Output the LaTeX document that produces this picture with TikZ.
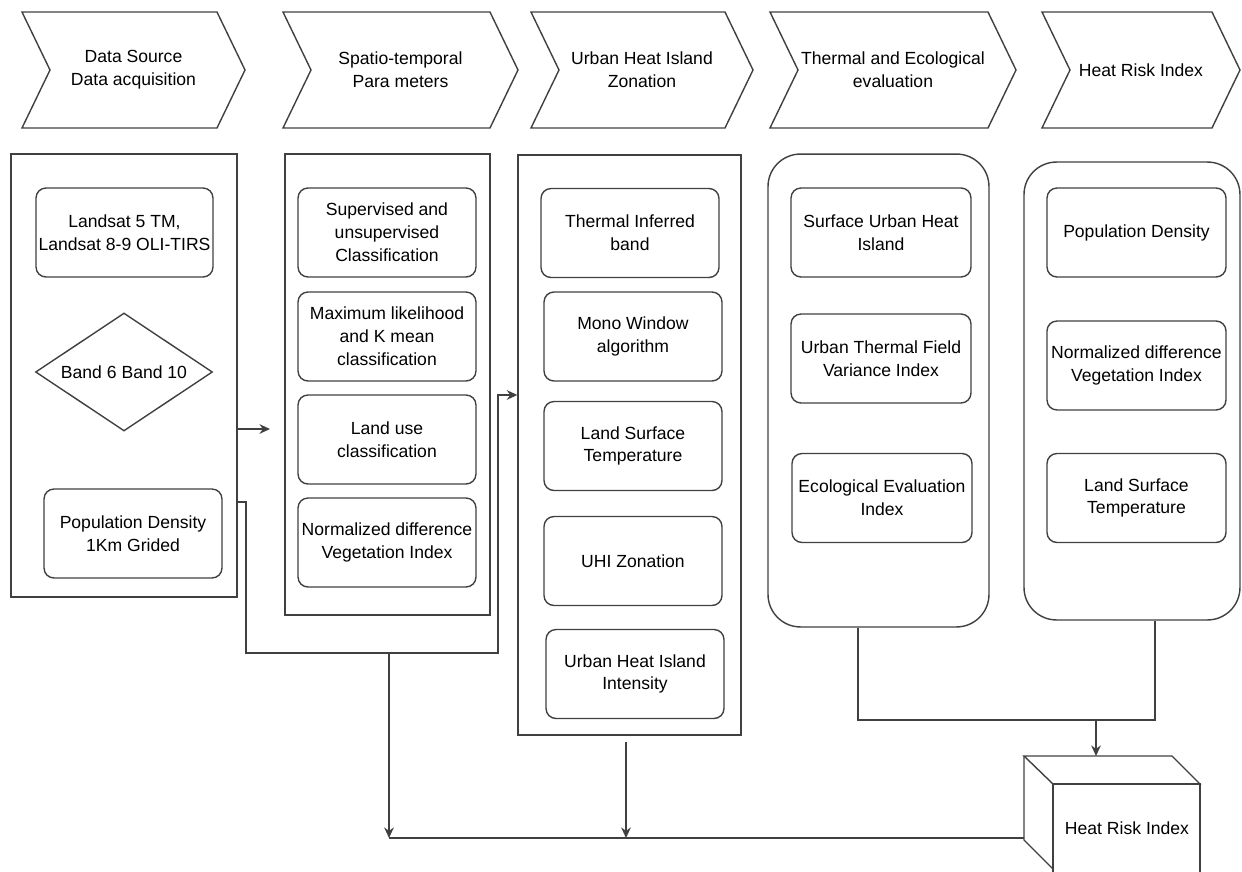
\documentclass[tikz,border=0pt]{standalone}
\usepackage{fontspec}
\setmainfont{Liberation Sans}
\usetikzlibrary{arrows.meta, shapes.geometric}
\tikzset{stagetext/.style = {align=center, font=\fontsize{10}{13}\selectfont},
    flow/.style = {draw=black!75, line width=0.8pt},
    flowarrow/.style = {flow, -{Stealth[length=6pt,width=5.5pt]}},
    groupbox/.style = {flow, inner sep=0pt},
    roundgroup/.style = {groupbox, rounded corners=0.65cm},
    itembox/.style = {flow, rounded corners=0.2cm,
            minimum width=3.56cm, minimum height=1.78cm,
            inner sep=1pt, stagetext}}
% #1 left x, #2 right x of the top edge, #3 name, #4 text
\newcommand\stagechevron[4]{%
    \draw[flow] (#1,12) -- (#2,12) -- ++(28,58) -- ++(-28,58) -- (#1,128)
        -- ++(28,-58) -- cycle;
    \node[stagetext] (#3) at ({(#1+#2+28)/2},70) {#4};}

\begin{document}
\begin{tikzpicture}[x=0.02cm, y=-0.02cm]
\useasboundingbox (0,0) rectangle (1242,872);
% stage headers
\stagechevron{22}{217}{hsource}{Data Source\\Data acquisition}
\stagechevron{283}{490}{hspatio}{Spatio-temporal\\Para meters}
\stagechevron{531}{725}{huhi}{Urban Heat Island\\Zonation}
\stagechevron{770}{988}{htherm}{Thermal and Ecological\\evaluation}
\stagechevron{1042}{1212}{hrisk}{Heat Risk Index}

% group boxes
\node[groupbox, minimum width=4.52cm, minimum height=8.86cm] (src) at (124,375.5) {};
\node[groupbox, minimum width=4.10cm, minimum height=9.22cm] (spt) at (387.5,384.5) {};
\node[groupbox, minimum width=4.46cm, minimum height=11.6cm] (uhi) at (629.5,445) {};
\node[roundgroup, minimum width=4.42cm, minimum height=9.46cm] (thm) at (878.5,390.5) {};
\node[roundgroup, minimum width=4.32cm, minimum height=9.16cm] (rsk) at (1132,391) {};

% data source
\node[itembox, minimum width=3.54cm] (landsat) at (124.5,232.5) {Landsat 5 TM,\\Landsat 8-9 OLI-TIRS};
\node[flow, diamond, shape aspect=1.5, minimum width=3.54cm, minimum height=2.36cm,
      inner sep=0pt, stagetext] (bands) at (124,372) {Band 6 Band 10};
\node[itembox] (popgrid) at (133,533.5) {Population Density\\1Km Grided};

% spatio-temporal parameters
\node[itembox] (superv) at (387,232.5) {Supervised and\\unsupervised\\Classification};
\node[itembox] (maxlik) at (387,336.5) {Maximum likelihood\\and K mean\\classification};
\node[itembox] (landuse) at (387,439.5) {Land use\\classification};
\node[itembox] (ndvia) at (387,542.5) {Normalized difference\\Vegetation Index};

% urban heat island zonation
\node[itembox] (tirband) at (630,233) {Thermal Inferred\\band};
\node[itembox] (monowin) at (633,336.5) {Mono Window\\algorithm};
\node[itembox] (lsta) at (633,446) {Land Surface\\Temperature};
\node[itembox] (uhizone) at (633,561) {UHI Zonation};
\node[itembox] (uhiint) at (635,674) {Urban Heat Island\\Intensity};

% thermal and ecological evaluation
\node[itembox, minimum width=3.6cm] (suhi) at (881,232.5) {Surface Urban Heat\\Island};
\node[itembox, minimum width=3.6cm] (utfvi) at (881,358.5) {Urban Thermal Field\\Variance Index};
\node[itembox, minimum width=3.6cm] (eei) at (882,498) {Ecological Evaluation\\Index};

% heat risk index
\node[itembox, minimum width=3.58cm] (popd) at (1136.5,232.5) {Population Density};
\node[itembox, minimum width=3.58cm] (ndvib) at (1136.5,365.5) {Normalized difference\\Vegetation Index};
\node[itembox, minimum width=3.58cm] (lstb) at (1136.5,498) {Land Surface\\Temperature};

% result cube
\draw[flow] (1024,756) -- (1172,756) -- (1200,784) -- (1053,784) -- cycle;
\draw[flow] (1053,784) rectangle (1200,880);
\draw[flow] (1024,756) -- (1024,840) -- (1053,869);
\node[stagetext] (hri) at (1127,828) {Heat Risk Index};
\coordinate (cubetop) at (1096,756);
\coordinate (cubeleft) at (1024,838);

% connectors
\coordinate (a1) at (270,429);
\coordinate (jl) at (389,653);
\coordinate (jb1) at (389,838);
\coordinate (jb2) at (626,838);
\coordinate (jr) at (1096,720);
\draw[flowarrow] (src.east |- a1) -- (a1);
\draw[flowarrow] (src.east |- 0,502) -- (246,502) |- (498,653) |- (uhi.west |- 0,395);
\draw[flowarrow] (jl) -- (jb1);
\draw[flowarrow] (626,742) -- (jb2);
\draw[flow] (jb1) -- (cubeleft);
\draw[flow] (thm.south -| 858,0) |- (jr) -| (rsk.south -| 1155,0);
\draw[flowarrow] (jr) -- (cubetop);
\end{tikzpicture}
\end{document}
